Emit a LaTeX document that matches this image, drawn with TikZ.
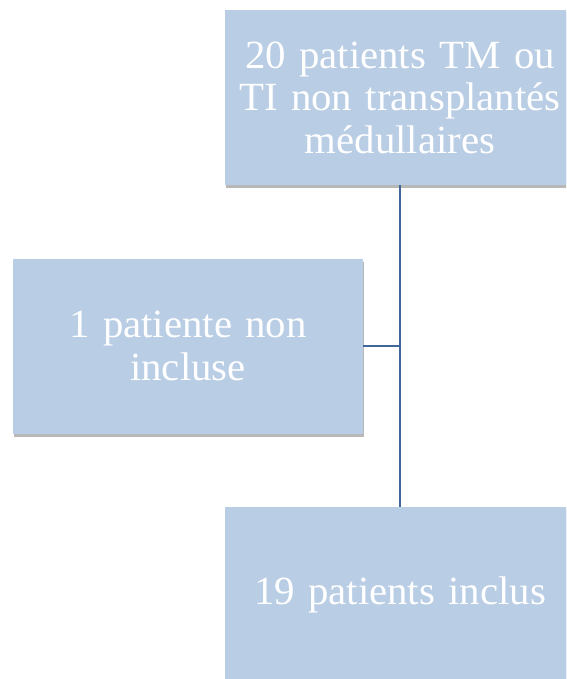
\documentclass[tikz,border=0pt]{standalone}
\usepackage{fontspec}
\usepackage{tikz}
\usetikzlibrary{shadows,positioning}
\newfontfamily\boxfont[FakeStretch=1.02]{Liberation Serif}
\definecolor{boxfill}{HTML}{B9CDE5}
\definecolor{linkblue}{HTML}{41669A}
\tikzset{
    flowbox/.style={rectangle, fill=boxfill, minimum width=350pt, minimum height=175pt,
        inner sep=0pt, text width=348pt, align=center, text=white,
        font=\boxfont\fontsize{40}{42.5}\selectfont,
        drop shadow={shadow xshift=0.8pt, shadow yshift=-3pt, opacity=0.35, fill=black!80}},
    link/.style={draw=linkblue, line width=1.4pt}
}

\begin{document}
\begin{tikzpicture}[x=1pt,y=1pt]
    \useasboundingbox (0,0) rectangle (566,-679);
    \clip (0,0) rectangle (566,-679);
    % boxes
    \node[flowbox] (total) at (400,-97.5) {20 patients TM ou\\TI non transplantés\\médullaires};
    \node[flowbox] (excl) at (188,-346) {1 patiente non\\incluse};
    \node[flowbox] (incl) at (400,-594.5) {19 patients inclus};
    % links
    \draw[link] (total.south) -- (incl.north);
    \draw[link] (excl.east) -- (excl.east -| total.south);
\end{tikzpicture}
\end{document}
